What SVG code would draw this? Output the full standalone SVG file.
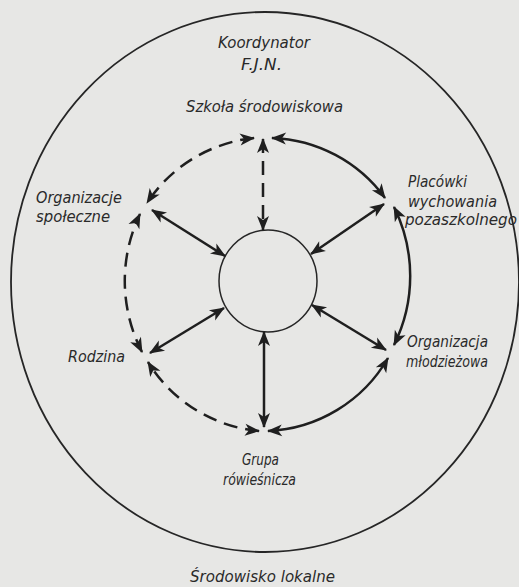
<svg xmlns="http://www.w3.org/2000/svg" width="519" height="587" viewBox="0 0 519 587">
<style>
.lbl{font-family:"DejaVu Sans","Liberation Sans",sans-serif;font-style:italic;font-size:15px;fill:#2a2a2a}
.ln{fill:none;stroke:#1f1f1f;stroke-width:2.5;marker-start:url(#ah);marker-end:url(#ah)}
.dash{stroke-dasharray:14 8}
.ring{fill:none;stroke:#262626}
</style>
<defs>
<marker id="ah" markerUnits="userSpaceOnUse" orient="auto-start-reverse" refX="0" refY="0" markerWidth="16" markerHeight="16" viewBox="-15 -8 16 16" overflow="visible">
<path d="M1,0 L-14,-6 L-10,0 L-14,6 Z" fill="#1f1f1f"/>
</marker>
</defs>
<rect x="0" y="0" width="519" height="587" fill="#e7e7e5"/>
<g id="environment">
<ellipse class="ring" cx="265" cy="282" rx="254" ry="270" stroke-width="1.8"/>
<text class="lbl" x="190" y="582" textLength="145" lengthAdjust="spacingAndGlyphs">Środowisko lokalne</text>
</g>
<g id="coordinator">
<text class="lbl" x="218" y="48" textLength="92" lengthAdjust="spacingAndGlyphs">Koordynator</text>
<text class="lbl" x="241" y="70" textLength="41" lengthAdjust="spacingAndGlyphs">F.J.N.</text>
</g>
<g id="center">
<ellipse class="ring" cx="268" cy="281" rx="49" ry="51" stroke-width="1.5"/>
</g>
<g id="szkola">
<text class="lbl" x="186" y="112" textLength="157" lengthAdjust="spacingAndGlyphs">Szkoła środowiskowa</text>
</g>
<g id="placowki">
<text class="lbl" x="408" y="187" textLength="59" lengthAdjust="spacingAndGlyphs">Placówki</text>
<text class="lbl" x="408" y="207" textLength="89" lengthAdjust="spacingAndGlyphs">wychowania</text>
<text class="lbl" x="405" y="225" textLength="112" lengthAdjust="spacingAndGlyphs">pozaszkolnego</text>
</g>
<g id="organizacja-mlodziezowa">
<text class="lbl" x="407" y="347" textLength="81" lengthAdjust="spacingAndGlyphs">Organizacja</text>
<text class="lbl" x="406" y="367" textLength="82" lengthAdjust="spacingAndGlyphs">młodzieżowa</text>
</g>
<g id="grupa">
<text class="lbl" x="242" y="465" textLength="37" lengthAdjust="spacingAndGlyphs">Grupa</text>
<text class="lbl" x="223" y="485" textLength="73" lengthAdjust="spacingAndGlyphs">rówieśnicza</text>
</g>
<g id="rodzina">
<text class="lbl" x="68" y="362" textLength="57" lengthAdjust="spacingAndGlyphs">Rodzina</text>
</g>
<g id="organizacje-spoleczne">
<text class="lbl" x="36" y="203" textLength="86" lengthAdjust="spacingAndGlyphs">Organizacje</text>
<text class="lbl" x="36" y="222" textLength="74" lengthAdjust="spacingAndGlyphs">społeczne</text>
</g>
<g id="connectors">
<path class="ln dash" d="M263,139 L263,230"/>
<path class="ln" d="M152,210 L225,256"/>
<path class="ln" d="M384,204 L311,254"/>
<path class="ln" d="M386,350 L312,305"/>
<path class="ln" d="M150,353 L224,308"/>
<path class="ln" d="M264,427 L264,332"/>
<path class="ln" d="M272,138 A146,146 0 0 1 385,198"/>
<path class="ln dash" d="M254,138 A146,146 0 0 0 147,203"/>
<path class="ln" d="M394,207 A155,155 0 0 1 394,345"/>
<path class="ln" d="M388,358 A146,146 0 0 1 268,431"/>
<path class="ln dash" d="M259,431 A146,146 0 0 1 148,362"/>
<path class="ln dash" d="M142,352 A155,155 0 0 1 140,214"/>
</g>
</svg>
